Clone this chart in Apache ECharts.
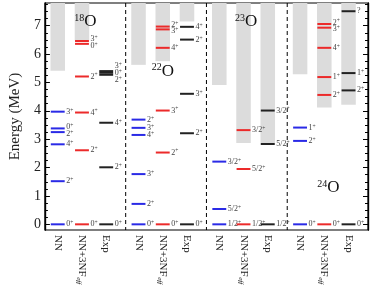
<!DOCTYPE html>
<html><head><meta charset="utf-8">
<script src="https://cdn.jsdelivr.net/npm/echarts@6/dist/echarts.min.js"></script>
<style>html,body{margin:0;padding:0;background:#fff}#c{width:374px;height:289px}</style>
</head><body><div id="c"></div>
<script>
// ---- data ----
const nuclei = ['18', '22', '23', '24'];           // oxygen isotopes (mass numbers)
const methods = ['NN', 'NN+3NF', 'Exp'];

const o18NN_E = [0, 1.52, 2.82, 3.25, 3.38, 3.97];
const o18NN_J = ['0+', '2+', '4+', '2+', '0+', '3+'];
const o18NF_E = [0, 2.61, 3.94, 5.21, 6.36, 6.46];
const o18NF_J = ['0+', '2+', '4+', '2+', '0+', '3+'];
const o18EX_E = [0, 2.01, 3.58, 5.27, 5.34, 5.40];
const o18EX_J = ['0+', '2+', '4+', '2+', '0+', '3+'];

const o22NN_E = [0, 0.72, 1.77, 3.15, 3.40, 3.69];
const o22NN_J = ['0+', '2+', '3+', '4+', '3+', '2+'];
const o22NF_E = [0, 2.53, 4.01, 6.22, 6.87, 6.97];
const o22NF_J = ['0+', '2+', '3+', '4+', '3+', '2+'];
const o22EX_E = [0, 3.21, 4.60, 6.51, 6.96];
const o22EX_J = ['0+', '2+', '3+', '2+', '4+'];

const o23NN_E = [0, 0.54, 2.21];
const o23NN_J = ['1/2+', '5/2+', '3/2+'];
const o23NF_E = [0, 1.95, 3.32];
const o23NF_J = ['1/2+', '5/2+', '3/2+'];
const o23EX_E = [0, 2.83, 4.01];
const o23EX_J = ['1/2+', '5/2+', '3/2+'];

const o24NN_E = [0, 2.94, 3.41];
const o24NN_J = ['0+', '2+', '1+'];
const o24NF_E = [0, 4.56, 5.19, 6.22, 6.93, 7.06];
const o24NF_J = ['0+', '2+', '1+', '4+', '3+', '2+'];
const o24EX_E = [0, 4.72, 5.33, 7.51];
const o24EX_J = ['0+', '2+', '1+', '?'];

// continuum thresholds (grey bands start), per nucleus
const thresholdNN = [5.41, 5.62, 4.91, 5.29];
const thresholdNF = [6.48, 5.75, 2.87, 4.12];
const thresholdEX = [null, 7.15, 2.80, 4.21];

const yTicks = [0, 1, 2, 3, 4, 5, 6, 7];

// ---- layout / style ----
const Y_MIN = -0.2, Y_MAX = 7.8;
const colOffset = [0.159, 0.459, 0.759];
const halfW = 0.086;
const colColors = ['#2a2ae6', '#ec2a2a', '#222222'];
const FONT = '"Liberation Serif", "DejaVu Serif", serif';
const LABEL_GAP = 0.24;
const nucleusLabelAt = [[0.50, 7.13], [1.46, 5.40], [2.49, 7.13], [3.51, 1.30]];

const columns = [
  [o18NN_E, o18NN_J], [o18NF_E, o18NF_J], [o18EX_E, o18EX_J],
  [o22NN_E, o22NN_J], [o22NF_E, o22NF_J], [o22EX_E, o22EX_J],
  [o23NN_E, o23NN_J], [o23NF_E, o23NF_J], [o23EX_E, o23EX_J],
  [o24NN_E, o24NN_J], [o24NF_E, o24NF_J], [o24EX_E, o24EX_J]
];
const thresholds = [thresholdNN, thresholdNF, thresholdEX];

function colX(ci) { return Math.floor(ci / 3) + colOffset[ci % 3]; }

// spread labels so they do not overlap
function spread(es) {
  const idx = es.map((e, i) => i).sort((a, b) => es[a] - es[b]);
  let groups = idx.map(i => ({ items: [i], c: es[i] }));
  let changed = true;
  while (changed) {
    changed = false;
    for (let g = 1; g < groups.length; g++) {
      const A = groups[g - 1], B = groups[g];
      const aTop = A.c + (A.items.length - 1) * LABEL_GAP / 2;
      const bBot = B.c - (B.items.length - 1) * LABEL_GAP / 2;
      if (bBot - aTop < LABEL_GAP - 1e-9) {
        const items = A.items.concat(B.items);
        const c = items.reduce((s, i) => s + es[i], 0) / items.length;
        groups.splice(g - 1, 2, { items, c });
        changed = true; break;
      }
    }
  }
  const out = es.slice();
  groups.forEach(G => {
    const n = G.items.length;
    G.items.forEach((i, k) => { out[i] = G.c + (k - (n - 1) / 2) * LABEL_GAP; });
  });
  return out;
}

const levels = [];
columns.forEach((col, ci) => {
  const [E, J] = col;
  const le = spread(E);
  E.forEach((e, k) => levels.push({ x: colX(ci), e, le: le[k], j: J[k], c: ci % 3 }));
});

const bands = [];
thresholds.forEach((arr, m) => arr.forEach((t, p) => {
  if (t !== null) bands.push({ x: p + colOffset[m], t });
}));

function richLabel(j) {
  const m = j.match(/^(.*?)([+-])$/);
  return m ? '{n|' + m[1] + '}{p|' + m[2] + '}' : '{n|' + j + '}';
}

const ctx = document.createElement('canvas').getContext('2d');
function textW(t, size) { ctx.font = size + 'px ' + FONT; return ctx.measureText(t).width; }

const minorTicks = [];
for (let k = 1; k < 32; k++) { if (k % 4) minorTicks.push(k * 0.25); }

const yBase = {
  type: 'value', min: Y_MIN, max: Y_MAX,
  splitLine: { show: false },
  axisLine: { show: true, lineStyle: { color: '#000', width: 1.2 } }
};

const chart = echarts.init(document.getElementById('c'));
chart.setOption({
  animation: false,
  grid: { left: 29, right: 6, top: 3, bottom: 59, show: true, borderColor: '#000', borderWidth: 1.2 },
  xAxis: [{ type: 'value', min: 0, max: 4, show: false }],
  yAxis: [
    Object.assign({}, yBase, {
      position: 'left',
      name: 'Energy (MeV)', nameLocation: 'middle', nameGap: 20,
      nameTextStyle: { fontFamily: FONT, fontSize: 15, color: '#222' },
      axisTick: { show: true, inside: true, length: 5, customValues: yTicks, lineStyle: { color: '#000' } },
      axisLabel: { show: true, customValues: yTicks, fontFamily: FONT, fontSize: 14, color: '#222', margin: 4 }
    }),
    Object.assign({}, yBase, {
      position: 'left',
      axisTick: { show: true, inside: true, length: 3, customValues: minorTicks, lineStyle: { color: '#000' } },
      axisLabel: { show: false }
    }),
    Object.assign({}, yBase, {
      position: 'right',
      axisTick: { show: true, inside: true, length: 5, customValues: yTicks, lineStyle: { color: '#000' } },
      axisLabel: { show: false }
    }),
    Object.assign({}, yBase, {
      position: 'right',
      axisTick: { show: true, inside: true, length: 3, customValues: minorTicks, lineStyle: { color: '#000' } },
      axisLabel: { show: false }
    })
  ],
  series: [
    { // grey continuum bands
      type: 'custom', z: 1,
      data: bands.map(b => [b.x, b.t]),
      renderItem: (params, api) => {
        const x = api.value(0), t = api.value(1);
        const p1 = api.coord([x - halfW - 0.004, Y_MAX]);
        const p2 = api.coord([x + halfW + 0.004, t]);
        return { type: 'rect', shape: { x: p1[0], y: p1[1], width: p2[0] - p1[0], height: p2[1] - p1[1] },
                 style: { fill: '#dcdcdc' } };
      }
    },
    { // panel separators
      type: 'custom', z: 2,
      data: [[1], [2], [3]],
      renderItem: (params, api) => {
        const x = api.value(0);
        const p1 = api.coord([x, Y_MAX]), p2 = api.coord([x, Y_MIN]);
        return { type: 'line', shape: { x1: p1[0], y1: p1[1], x2: p2[0], y2: p2[1] },
                 style: { stroke: '#000', lineWidth: 1, lineDash: [4, 3] } };
      }
    },
    { // energy levels
      type: 'custom', z: 3,
      data: levels.map(l => [l.x, l.e]),
      renderItem: (params, api) => {
        const l = levels[params.dataIndex];
        const x = api.value(0), e = api.value(1);
        const p1 = api.coord([x - halfW, e]), p2 = api.coord([x + halfW, e]);
        const pl = api.coord([x + halfW, l.le]);
        return { type: 'group', children: [
          { type: 'line', shape: { x1: p1[0], y1: p1[1], x2: p2[0], y2: p2[1] },
            style: { stroke: colColors[l.c], lineWidth: 2 } },
          { type: 'text', x: pl[0] + 1.5, y: pl[1],
            style: { text: richLabel(l.j), align: 'left', verticalAlign: 'middle', fill: '#444',
                     rich: { n: { fontFamily: FONT, fontSize: 8, lineHeight: 9, fill: '#444' },
                             p: { fontFamily: FONT, fontSize: 5.5, lineHeight: 9, verticalAlign: 'top', fill: '#444' } } } }
        ] };
      }
    },
    { // method labels under columns
      type: 'custom', z: 3,
      data: columns.map((c, ci) => [colX(ci)]),
      renderItem: (params, api) => {
        const ci = params.dataIndex;
        const p = api.coord([api.value(0), Y_MIN]);
        const name = methods[ci % 3];
        const children = [];
        children.push({ type: 'text', x: 0, y: 0, style: { text: name, font: '11px ' + FONT, fill: '#222', align: 'left', verticalAlign: 'middle' } });
        if (name === 'NN+3NF') {
          children.push({ type: 'text', x: textW(name, 11) + 0.5, y: 3, style: { text: 'eff', font: 'italic 7px ' + FONT, fill: '#222', align: 'left', verticalAlign: 'middle' } });
        }
        return { type: 'group', x: p[0], y: p[1] + 5, rotation: -Math.PI / 2, children };
      }
    },
    { // nucleus labels
      type: 'custom', z: 4,
      data: nucleusLabelAt,
      renderItem: (params, api) => {
        const p = api.coord([api.value(0), api.value(1)]);
        return { type: 'text', x: p[0], y: p[1],
          style: { text: '{m|' + nuclei[params.dataIndex] + '}{o|O}', align: 'center', verticalAlign: 'middle',
                   rich: { m: { fontFamily: FONT, fontSize: 10, lineHeight: 17, verticalAlign: 'top', fill: '#111' },
                           o: { fontFamily: FONT, fontSize: 17, lineHeight: 17, fill: '#111' } } } };
      }
    }
  ]
});
</script></body></html>
